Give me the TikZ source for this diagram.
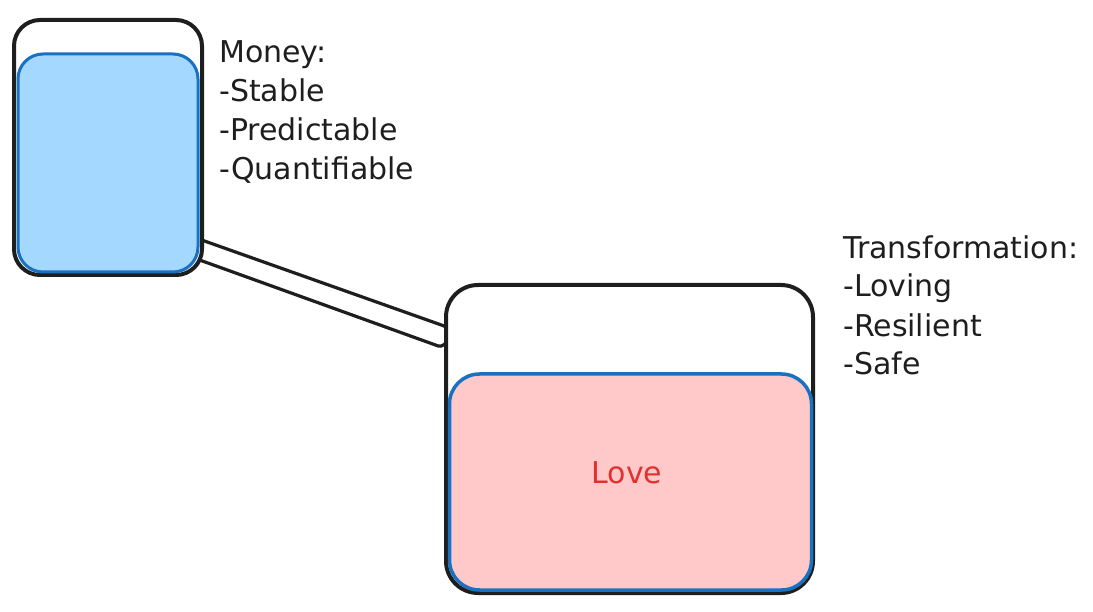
\documentclass[tikz,border=0pt]{standalone}
\usepackage{fontspec}
\setmainfont{DejaVu Sans}
\definecolor{ink}{HTML}{1E1E1E}
\definecolor{waterblue}{HTML}{A5D8FF}
\definecolor{edgeblue}{HTML}{1971C2}
\definecolor{lovepink}{HTML}{FFC9C9}
\definecolor{lovered}{HTML}{E03131}
\tikzset{
  jar/.style={draw=ink, line width=4pt, rounded corners=26pt, fill=white, inner sep=0pt},
  liquidblue/.style={draw=edgeblue, line width=3pt, rounded corners=25pt, fill=waterblue, inner sep=0pt},
  liquidpink/.style={draw=edgeblue, line width=3.5pt, rounded corners=30pt, fill=lovepink, inner sep=0pt},
  pipe/.style={draw=ink, line width=3.2pt, fill=white, rounded corners=3pt},
  note/.style={anchor=base west, font=\fontsize{30}{39}\selectfont, text=ink, inner sep=0pt, align=left},
}
\begin{document}
\begin{tikzpicture}[x=1pt,y=-1pt]
\useasboundingbox (0,0) rectangle (1093,612);
% pipe end points
\coordinate (p1) at (196,238);
\coordinate (p2) at (447,327);
\coordinate (p3) at (447,342);
\coordinate (p4) at (441,347);
\coordinate (p5) at (194,258);
\draw[pipe] (p1) -- (p2) -- (p3) -- (p4) -- (p5) -- cycle;
% left jar
\node[jar, minimum width=188pt, minimum height=255pt] (moneyjar) at (108,147.5) {};
\node[liquidblue, minimum width=180pt, minimum height=218pt] (money) at (108,163) {};
% right jar
\node[jar, minimum width=367pt, minimum height=308pt, rounded corners=32pt] (lovejar) at (629.5,439) {};
\node[liquidpink, minimum width=362pt, minimum height=216pt] (love) at (630.5,482) {};
\node[font=\fontsize{30}{34}\selectfont, text=lovered] (lovetext) at (627,473) {Love};
% notes (anchored at the baseline of the last line)
\node[note] (moneynote) at (219,180) {Money:\\-Stable\\-Predictable\\-Quantifiable};
\node[note] (transnote) at (843,375) {Transformation:\\-Loving\\-Resilient\\-Safe};
\end{tikzpicture}
\end{document}
